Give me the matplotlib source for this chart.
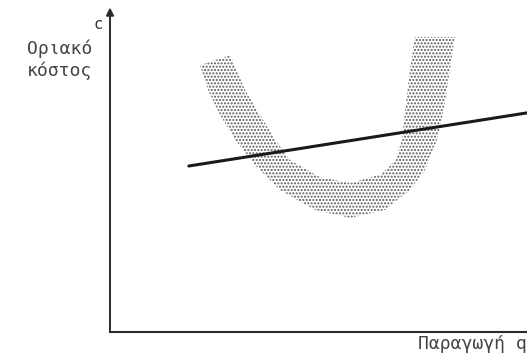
import matplotlib
matplotlib.use("Agg")
import matplotlib.pyplot as plt
from matplotlib.patches import Polygon

# Marginal-cost band (U shape): outer and inner edges, in (q, c) units
outer_q = [2.16, 2.35, 2.64, 3.00, 3.48, 4.08, 4.92, 5.76, 6.59, 7.19, 7.55, 7.84, 7.99, 8.15, 8.27]
outer_c = [6.43, 5.83, 5.23, 4.63, 4.02, 3.42, 2.94, 2.75, 2.94, 3.42, 3.90, 4.63, 5.28, 6.31, 7.11]
inner_q = [7.31, 7.19, 7.07, 7.00, 6.85, 6.50, 5.76, 5.04, 4.32, 3.96, 3.60, 3.24, 2.88]
inner_c = [7.11, 6.31, 5.28, 4.63, 4.14, 3.80, 3.59, 3.73, 4.14, 4.63, 5.23, 5.83, 6.67]

# Straight rising line crossing the band
line_q = [1.89, 10.0]
line_c = [4.00, 5.28]

y_label = "Οριακό\nκόστος"
y_symbol = "c"
x_label = "Παραγωγή q"

plt.rcParams["hatch.linewidth"] = 1.0

fig = plt.figure(figsize=(5.27, 3.58), dpi=100)
ax = fig.add_axes([110 / 527, 26 / 358, 417 / 527, 332 / 358])
ax.set_xlim(0, 10)
ax.set_ylim(0, 8)
ax.axis("off")

band = Polygon(list(zip(outer_q + inner_q, outer_c + inner_c)), closed=True,
               facecolor="none", edgecolor="#5a5a5a", hatch=".....", lw=0)
ax.add_patch(band)

ax.plot(line_q, line_c, color="#1a1a1a", lw=2.2, solid_capstyle="round", clip_on=False)

# Axes drawn by hand: horizontal baseline and vertical arrow
ax.plot([0, 10], [0, 0], color="#2a2a2a", lw=1.5, clip_on=False)
ax.annotate("", xy=(0, 7.82), xytext=(0, 0),
            arrowprops=dict(arrowstyle="-|>", lw=1.4, color="#2a2a2a",
                            mutation_scale=11, shrinkA=0, shrinkB=0),
            annotation_clip=False)

mono = ["DejaVu Sans Mono"]
ax.text(-0.18, 7.40, y_symbol, ha="right", va="center", fontsize=11,
        family=mono, color="#333333", clip_on=False)
ax.text(-1.2, 6.57, y_label, ha="center", va="center", fontsize=13,
        family=mono, color="#444444", linespacing=1.25, clip_on=False)
ax.text(10.0, -0.30, x_label, ha="right", va="center", fontsize=13,
        family=mono, color="#444444", clip_on=False)

fig.savefig("out.png", dpi=100, facecolor="white")
